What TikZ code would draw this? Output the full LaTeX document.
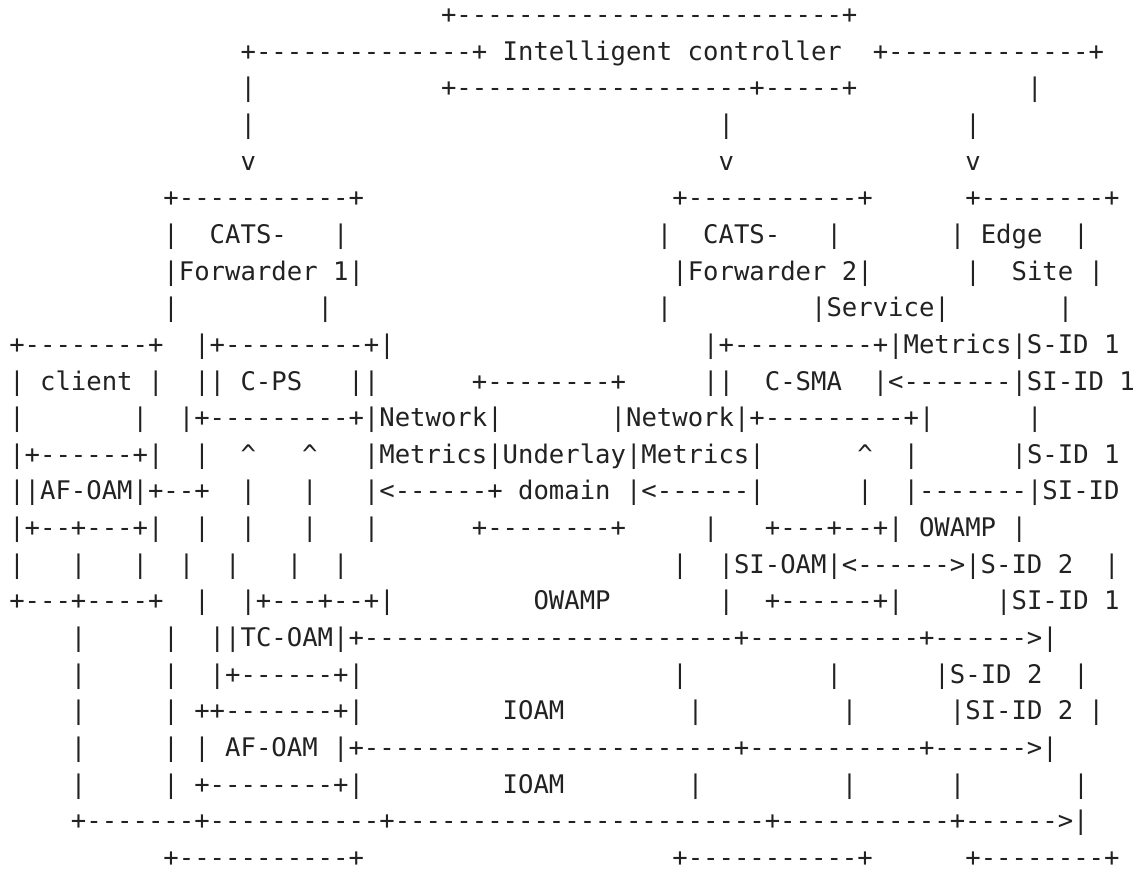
\documentclass[tikz,border=0pt]{standalone}
\usepackage{fontspec}
\setmonofont{DejaVu Sans Mono}
\newlength\cw
\setlength\cw{7.71pt}
\newcommand\C[2]{\rlap{\hspace*{#1\cw}#2}}
\newcommand\up{\textasciicircum}
\definecolor{ink}{RGB}{34,34,34}
\begin{document}
\begin{tikzpicture}[x=1pt,y=1pt,
  row/.style={anchor=base west, inner sep=0pt, outer sep=0pt, text=ink,
    font=\ttfamily\fontsize{12.806pt}{15pt}\selectfont}]
\fill[white] (0,0) rectangle (569,-437.5);
\useasboundingbox (0,0) rectangle (569,-437.5);
\node[row] (r1) at (4.145,-11.75) {\C{28}{+-------------------------+}};
\node[row] (r2) at (4.145,-30.075) {\C{15}{+--------------+}\C{32}{Intelligent controller}\C{56}{+-------------+}};
\node[row] (r3) at (4.145,-48.4) {\C{15}{|}\C{28}{+-------------------+-----+}\C{66}{|}};
\node[row] (r4) at (4.145,-66.725) {\C{15}{|}\C{46}{|}\C{62}{|}};
\node[row] (r5) at (4.145,-85.05) {\C{15}{v}\C{46}{v}\C{62}{v}};
\node[row] (r6) at (4.145,-103.375) {\C{10}{+-----------+}\C{43}{+-----------+}\C{62}{+--------+}};
\node[row] (r7) at (4.145,-121.7) {\C{10}{|}\C{13}{CATS-}\C{21}{|}\C{42}{|}\C{45}{CATS-}\C{53}{|}\C{61}{|}\C{63}{Edge}\C{69}{|}};
\node[row] (r8) at (4.145,-140.025) {\C{10}{|Forwarder 1|}\C{43}{|Forwarder 2|}\C{62}{|}\C{65}{Site}\C{70}{|}};
\node[row] (r9) at (4.145,-158.35) {\C{10}{|}\C{20}{|}\C{42}{|}\C{52}{|Service|}\C{68}{|}};
\node[row] (r10) at (4.145,-176.675) {\C{0}{+--------+}\C{12}{|+---------+|}\C{45}{|+---------+|Metrics|S-ID 1}};
\node[row] (r11) at (4.145,-195.0) {\C{0}{|}\C{2}{client}\C{9}{|}\C{12}{||}\C{15}{C-PS}\C{22}{||}\C{30}{+--------+}\C{45}{||}\C{49}{C-SMA}\C{56}{|<-------|SI-ID 1}};
\node[row] (r12) at (4.145,-213.325) {\C{0}{|}\C{8}{|}\C{11}{|+---------+|Network|}\C{39}{|Network|+---------+|}\C{66}{|}};
\node[row] (r13) at (4.145,-231.65) {\C{0}{|+------+|}\C{12}{|}\C{15}{\up}\C{19}{\up}\C{23}{|Metrics|Underlay|Metrics|}\C{55}{\up}\C{58}{|}\C{65}{|S-ID 1}};
\node[row] (r14) at (4.145,-249.975) {\C{0}{||AF-OAM|+--+}\C{15}{|}\C{19}{|}\C{23}{|<------+}\C{33}{domain}\C{40}{|<------|}\C{55}{|}\C{58}{|-------|SI-ID}};
\node[row] (r15) at (4.145,-268.3) {\C{0}{|+--+---+|}\C{12}{|}\C{15}{|}\C{19}{|}\C{23}{|}\C{30}{+--------+}\C{45}{|}\C{49}{+---+--+|}\C{59}{OWAMP}\C{65}{|}};
\node[row] (r16) at (4.145,-286.625) {\C{0}{|}\C{4}{|}\C{8}{|}\C{11}{|}\C{14}{|}\C{18}{|}\C{21}{|}\C{43}{|}\C{46}{|SI-OAM|<------>|S-ID 2}\C{71}{|}};
\node[row] (r17) at (4.145,-304.95) {\C{0}{+---+----+}\C{12}{|}\C{15}{|+---+--+|}\C{34}{OWAMP}\C{46}{|}\C{49}{+------+|}\C{64}{|SI-ID 1}};
\node[row] (r18) at (4.145,-323.275) {\C{4}{|}\C{10}{|}\C{13}{||TC-OAM|+------------------------+-----------+------>|}};
\node[row] (r19) at (4.145,-341.6) {\C{4}{|}\C{10}{|}\C{13}{|+------+|}\C{43}{|}\C{53}{|}\C{60}{|S-ID 2}\C{69}{|}};
\node[row] (r20) at (4.145,-359.925) {\C{4}{|}\C{10}{|}\C{12}{++-------+|}\C{32}{IOAM}\C{44}{|}\C{54}{|}\C{61}{|SI-ID 2}\C{70}{|}};
\node[row] (r21) at (4.145,-378.25) {\C{4}{|}\C{10}{|}\C{12}{|}\C{14}{AF-OAM}\C{21}{|+------------------------+-----------+------>|}};
\node[row] (r22) at (4.145,-396.575) {\C{4}{|}\C{10}{|}\C{12}{+--------+|}\C{32}{IOAM}\C{44}{|}\C{54}{|}\C{61}{|}\C{69}{|}};
\node[row] (r23) at (4.145,-414.9) {\C{4}{+-------+-----------+------------------------+-----------+------>|}};
\node[row] (r24) at (4.145,-433.225) {\C{10}{+-----------+}\C{43}{+-----------+}\C{62}{+--------+}};
\end{tikzpicture}
\end{document}
